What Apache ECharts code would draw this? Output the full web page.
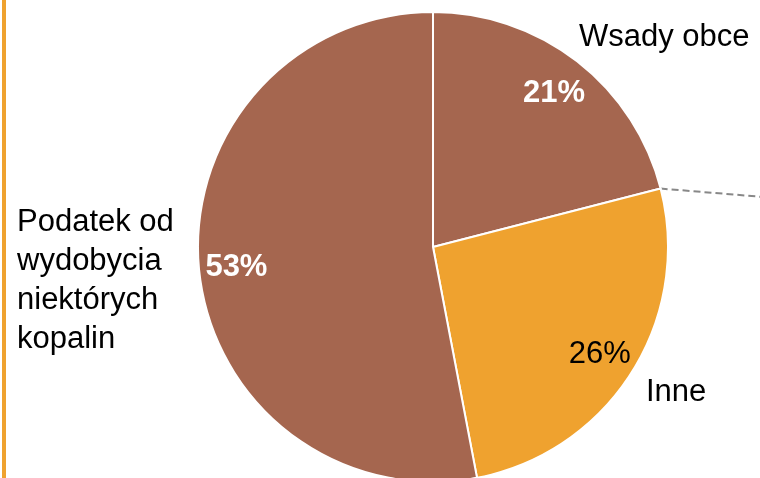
<!DOCTYPE html>
<html>
<head>
<meta charset="utf-8">
<script src="https://cdn.jsdelivr.net/npm/echarts@6/dist/echarts.min.js"></script>
<style>
  html, body { margin: 0; padding: 0; background: #fff; }
  #chart { width: 760px; height: 478px; }
</style>
</head>
<body>
<div id="chart"></div>
<script>
const categories = ["Wsady obce", "Inne", "Podatek od\nwydobycia\nniektórych\nkopalin"];
const shares = [21, 26, 53];
const sliceColors = ["#A5664F", "#EFA22F", "#A5664F"];
const pctColors = ["#ffffff", "#000000", "#ffffff"];
const pctWeights = ["bold", "normal", "bold"];

// where the category names sit (label anchor, left-aligned, vertical middle)
const namePos = [
  { x: 579, y: 37 },
  { x: 646, y: 392 },
  { x: 17, y: 281 }
];

const center = [433, 247];
const radius = 235;
const FONT = "'Liberation Sans', Arial, sans-serif";

const chart = echarts.init(document.getElementById("chart"));

// dashed leader line leaves the pie at the boundary between first and second slice
const total = shares.reduce((a, b) => a + b, 0);
const ang = (shares[0] / total) * Math.PI * 2;
const lx = center[0] + radius * Math.sin(ang);
const ly = center[1] - radius * Math.cos(ang);

const option = {
  animation: false,
  graphic: [
    {
      type: "rect",
      shape: { x: 2, y: 0, width: 4, height: 478 },
      style: { fill: "#EFA22F" },
      silent: true
    },
    {
      type: "line",
      shape: { x1: lx, y1: ly, x2: lx + 110, y2: ly + 9 },
      style: { stroke: "#888888", lineWidth: 2, lineDash: [7, 4] },
      silent: true
    }
  ],
  series: [
    {
      type: "pie",
      center: center,
      radius: radius,
      startAngle: 90,
      clockwise: true,
      silent: true,
      itemStyle: { borderColor: "#ffffff", borderWidth: 2 },
      label: {
        show: true,
        position: "outside",
        color: "#000000",
        fontFamily: FONT,
        fontSize: 31,
        lineHeight: 39,
        align: "left",
        overflow: "none"
      },
      labelLine: { show: false },
      labelLayout: function (p) {
        const pos = namePos[p.dataIndex];
        return { x: pos.x, y: pos.y, align: "left", verticalAlign: "middle", hideOverlap: false };
      },
      data: categories.map((name, i) => ({
        name: name,
        value: shares[i],
        itemStyle: { color: sliceColors[i] }
      }))
    },
    {
      // invisible copy, only used to place the percentage labels at ~0.83 radius
      type: "pie",
      center: center,
      radius: [0, radius * 1.655],
      startAngle: 90,
      clockwise: true,
      silent: true,
      itemStyle: { color: "rgba(0,0,0,0)", borderWidth: 0 },
      label: {
        show: true,
        position: "inside",
        formatter: "{c}%",
        fontFamily: FONT,
        fontSize: 31,
        overflow: "none"
      },
      labelLine: { show: false },
      labelLayout: { dy: 2 },
      data: categories.map((name, i) => ({
        name: name,
        value: shares[i],
        label: { color: pctColors[i], fontWeight: pctWeights[i] }
      }))
    }
  ]
};

chart.setOption(option);
window.addEventListener("resize", () => chart.resize());
</script>
</body>
</html>
